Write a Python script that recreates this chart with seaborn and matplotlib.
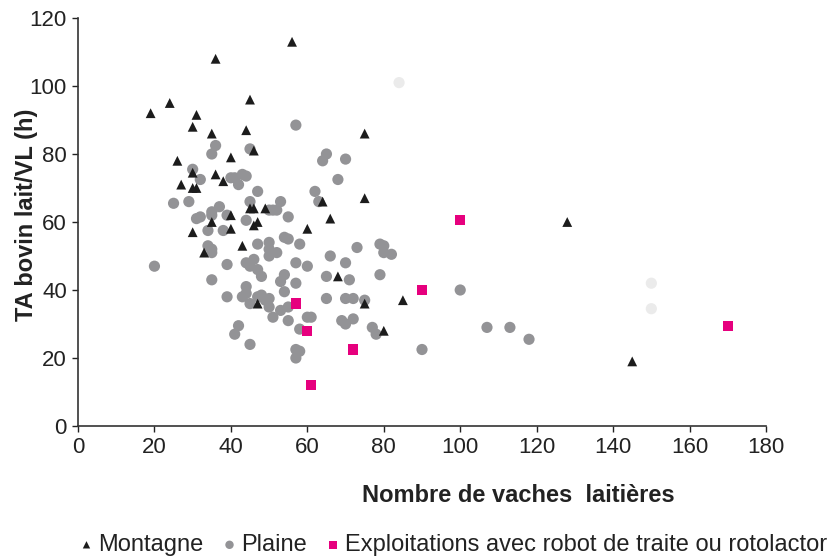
import matplotlib
matplotlib.use("Agg")
import matplotlib.pyplot as plt
import seaborn as sns
import pandas as pd

# Montagne (black triangles)
mont_x = [19, 24, 26, 27, 30, 30, 30, 31, 31, 35, 36, 36, 38, 40, 40, 40, 30, 33, 35, 43,
          44, 45, 46, 45, 46, 46, 47, 47, 49, 56, 60, 64, 66, 68, 75, 75, 75, 80, 85, 128, 145]
mont_y = [92, 95, 78, 71, 88, 74.5, 70, 70, 91.5, 86, 108, 74, 72, 79, 62, 58, 57, 51, 60, 53,
          87, 96, 81, 64, 64, 59, 60, 36, 64, 113, 58, 66, 61, 44, 86, 67, 36, 28, 37, 60, 19]

# Plaine (grey circles)
plaine_x = [20, 25, 29, 30, 31, 32, 32, 34, 34, 35, 35, 35, 35, 35, 36, 35, 37, 38, 39, 39,
            39, 40, 41, 41, 42, 42, 43, 44, 44, 44, 44, 43, 44, 45, 45, 45, 45, 45, 46, 47,
            47, 47, 47, 48, 48, 49, 50, 50, 50, 50, 50, 50, 51, 51, 52, 52, 53, 53, 53, 54,
            54, 54, 55, 55, 55, 55, 57, 57, 57, 57, 57, 58, 58, 58, 60, 60, 61, 62, 63, 64,
            65, 65, 65, 66, 68, 69, 70, 70, 70, 70, 71, 72, 72, 73, 75, 77, 78, 79, 79, 80,
            80, 82, 90, 100, 107, 113, 118]
plaine_y = [47, 65.5, 66, 75.5, 61, 61.5, 72.5, 57.5, 53, 52, 51, 62, 63, 80, 82.5, 43, 64.5, 57.5, 62, 47.5,
            38, 73, 73, 27, 71, 29.5, 74, 73.5, 60.5, 48, 41, 38, 39, 47, 66, 81.5, 36, 24, 49, 46,
            53.5, 69, 38, 44, 38.5, 37, 63.5, 54, 50, 52, 37.5, 35, 32, 63.5, 51, 63.5, 66, 42.5, 34, 44.5,
            55.5, 39.5, 61.5, 55, 35, 31, 48, 42, 88.5, 22.5, 20, 53.5, 22, 28.5, 47, 32, 32, 69, 66, 78,
            80, 44, 37.5, 50, 72.5, 31, 30, 37.5, 48, 78.5, 43, 37.5, 31.5, 52.5, 37, 29, 27, 53.5, 44.5, 53,
            51, 50.5, 22.5, 40, 29, 29, 25.5]

# very light points (not in legend)
light_x = [84, 150, 150]
light_y = [101, 42, 34.5]

# Exploitations avec robot de traite ou rotolactor (pink squares)
robot_x = [57, 60, 61, 72, 90, 100, 170]
robot_y = [36, 28, 12, 22.5, 40, 60.5, 29.5]

sns.set_style("white")
plt.rcParams["font.family"] = ["Liberation Sans", "DejaVu Sans"]

fig = plt.figure(figsize=(8.32, 5.57), dpi=100)
ax = fig.add_axes([78 / 832, 1 - 426 / 557, 688 / 832, 408 / 557])

sns.scatterplot(x=light_x, y=light_y, ax=ax, marker="o", s=65, color="#ebebeb",
                edgecolor="none", zorder=2)
sns.scatterplot(x=plaine_x, y=plaine_y, ax=ax, marker="o", s=65, color="#939396",
                edgecolor="none", label="Plaine", zorder=3)
sns.scatterplot(x=mont_x, y=mont_y, ax=ax, marker="^", s=50, color="#1c1c1c",
                edgecolor="none", label="Montagne", zorder=4)
sns.scatterplot(x=robot_x, y=robot_y, ax=ax, marker="s", s=55, color="#e6007e",
                edgecolor="none", label="Exploitations avec robot de traite ou rotolactor", zorder=5)

ax.set_xlim(0, 180)
ax.set_ylim(0, 120)
ax.set_xticks(range(0, 181, 20))
ax.set_yticks(range(0, 121, 20))
ax.tick_params(axis="both", labelsize=16, colors="#222222", length=4, width=1,
               direction="out", bottom=True, left=True, pad=4)
for side in ["top", "right"]:
    ax.spines[side].set_visible(False)
for side in ["left", "bottom"]:
    ax.spines[side].set_color("#333333")
    ax.spines[side].set_linewidth(1.2)

ax.set_xlabel("Nombre de vaches  laitières", fontsize=17, fontweight="bold", color="#222222")
ax.xaxis.set_label_coords((518 - 78) / 688, -0.142)
ax.set_ylabel("TA bovin lait/VL (h)", fontsize=17, fontweight="bold", color="#222222")
ax.yaxis.set_label_coords(-0.058, 0.517)

handles, labels = ax.get_legend_handles_labels()
order = [labels.index("Montagne"), labels.index("Plaine"),
         labels.index("Exploitations avec robot de traite ou rotolactor")]
ax.get_legend().remove()
leg = fig.legend([handles[i] for i in order], [labels[i] for i in order],
                 loc="center", bbox_to_anchor=(452 / 832, 1 - 545 / 557), ncol=3,
                 frameon=False, fontsize=17, handletextpad=0.1, columnspacing=0.7,
                 markerscale=0.75, handlelength=0.8, borderpad=0, borderaxespad=0)
for t in leg.get_texts():
    t.set_color("#222222")

fig.savefig("out.png", dpi=100)
